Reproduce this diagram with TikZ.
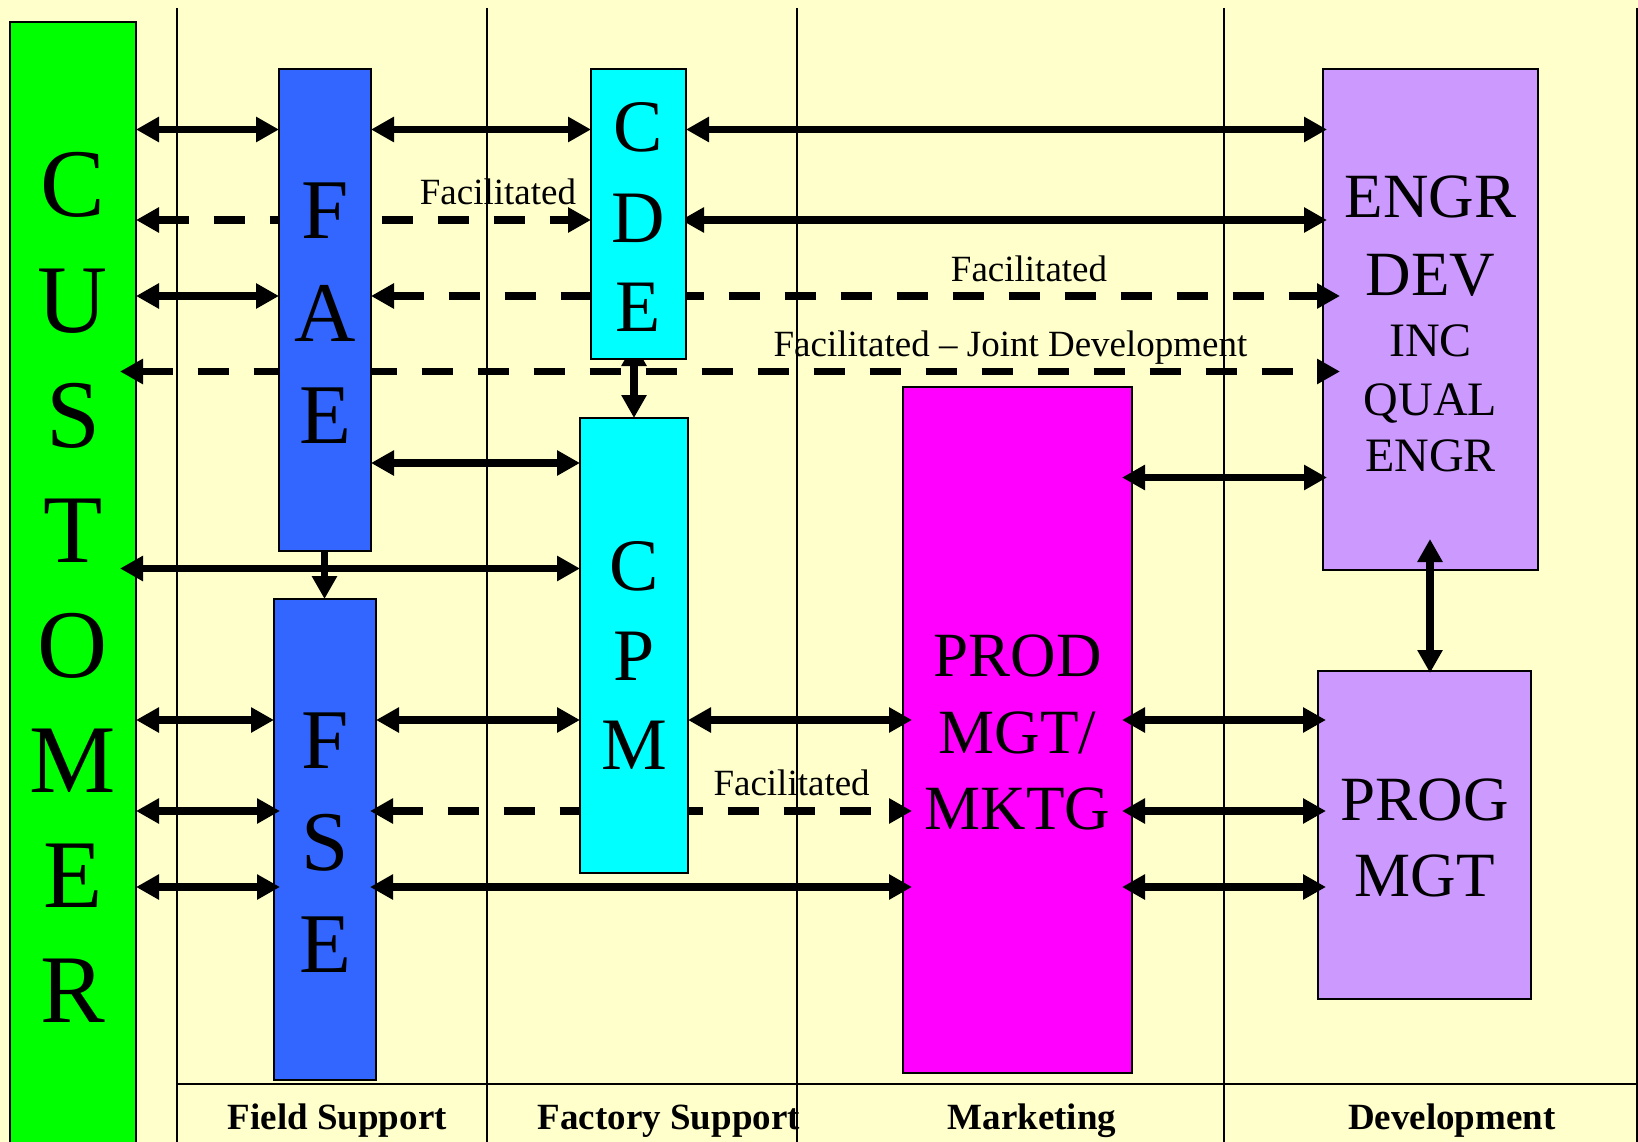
\documentclass[tikz,border=0pt]{standalone}
\usepackage{fontspec}
\setmainfont{Liberation Serif}
\usetikzlibrary{arrows.meta}
\definecolor{bgy}{HTML}{FFFFCC}
\definecolor{custg}{HTML}{00FF00}
\definecolor{faeb}{HTML}{3366FF}
\definecolor{cdec}{HTML}{00FFFF}
\definecolor{prodm}{HTML}{FF00FF}
\definecolor{engrp}{HTML}{CC99FF}
\pgfdeclarelayer{lyback}
\pgfdeclarelayer{lyconn}
\pgfdeclarelayer{lymid}
\pgfdeclarelayer{lyfront}
\pgfsetlayers{lyback,lyconn,lymid,lyfront,main}
\begin{document}
\begin{tikzpicture}[x=1pt,y=-1pt,
  box/.style={draw=black,line width=1.6pt,inner sep=0pt,outer sep=0pt,anchor=north west},
  txt/.style={inner sep=0pt,outer sep=0pt,anchor=base},
  conn/.style={line width=7.5pt,{Triangle[length=23pt,width=24pt]}-{Triangle[length=23pt,width=24pt]}},
  connone/.style={line width=7.5pt,-{Triangle[length=23pt,width=24pt]}},
  dconn/.style={conn,dash pattern=on 31pt off 25pt},
  lane/.style={line width=1.2pt,draw=black},
  fcust/.style={txt,font=\fontsize{97}{97}\selectfont},
  fbig/.style={txt,font=\fontsize{85}{85}\selectfont},
  fmid/.style={txt,font=\fontsize{74}{74}\selectfont},
  fbox/.style={txt,font=\fontsize{63}{63}\selectfont},
  fsmall/.style={txt,font=\fontsize{48}{48}\selectfont},
  flabel/.style={txt,font=\fontsize{37}{37}\selectfont},
  flane/.style={txt,font=\fontsize{37}{37}\selectfont\bfseries}]
\useasboundingbox (0,0) rectangle (1638,1142);

% ---------- background layer: lanes and under-boxes ----------
\begin{pgfonlayer}{lyback}
\fill[bgy] (0,0) rectangle (1638,1142);
\foreach \lx in {177,487,797,1224} \draw[lane] (\lx,8) -- (\lx,1142);
\draw[line width=2pt] (1637,8) -- (1637,1142);
\draw[line width=2pt] (177,1084) -- (1637,1084);

\node[box,fill=custg,minimum width=126pt,minimum height=1130pt] (cust) at (10,22) {};
\foreach \ch [count=\i] in {C,U,S,T,O,M,E,R}
  \node[fcust] (cu\i) at (73,{217+115*(\i-1)}) {\ch};

\node[box,fill=engrp,minimum width=215pt,minimum height=501pt] (engr) at (1323,69) {};
\node[fbox] (en1) at (1430.5,218) {ENGR};
\node[fbox] (en2) at (1430.5,295) {DEV};
\node[fsmall] (en3) at (1430.5,356) {INC};
\node[fsmall] (en4) at (1430.5,415) {QUAL};
\node[fsmall] (en5) at (1430.5,471.5) {ENGR};

\node[box,fill=prodm,minimum width=229pt,minimum height=686pt] (prod) at (903,387) {};
\node[fbox] (pd1) at (1017.5,676.5) {PROD};
\node[fbox] (pd2) at (1017.5,753) {MGT/};
\node[fbox] (pd3) at (1017.5,829.5) {MKTG};

\node[box,fill=engrp,minimum width=213pt,minimum height=328pt] (prog) at (1318,671) {};
\node[fbox] (pg1) at (1424.5,820) {PROG};
\node[fbox] (pg2) at (1424.5,896.5) {MGT};
\end{pgfonlayer}

% ---------- middle layer: boxes drawn over connectors ----------
\begin{pgfonlayer}{lymid}
\node[box,fill=faeb,minimum width=92pt,minimum height=482pt] (fae) at (279,69) {};
\node[fbig] (fa1) at (325,239) {F};
\node[fbig] (fa2) at (325,341) {A};
\node[fbig] (fa3) at (325,443) {E};

\node[box,fill=faeb,minimum width=102pt,minimum height=481pt] (fse) at (274,599) {};
\node[fbig] (fs1) at (325,768) {F};
\node[fbig] (fs2) at (325,870) {S};
\node[fbig] (fs3) at (325,972) {E};

\node[box,fill=cdec,minimum width=95pt,minimum height=290pt] (cde) at (591,69) {};
\node[fmid] (cd1) at (638.5,152) {C};
\node[fmid] (cd2) at (638.5,242) {D};
\node[fmid] (cd3) at (638.5,331) {E};
\end{pgfonlayer}

% CPM on top of everything
\node[box,fill=cdec,minimum width=108pt,minimum height=455pt] (cpm) at (580,418) {};
\node[fmid] (cp1) at (634,590) {C};
\node[fmid] (cp2) at (634,680) {P};
\node[fmid] (cp3) at (634,769) {M};

% ---------- row coordinates ----------
\coordinate (r1) at (0,129.5);
\coordinate (r2) at (0,220);
\coordinate (r3) at (0,296);
\coordinate (r4) at (0,371.5);
\coordinate (r6) at (0,463);
\coordinate (r6b) at (0,477.5);
\coordinate (r7) at (0,568.5);
\coordinate (r8) at (0,720);
\coordinate (r9) at (0,811);
\coordinate (r10) at (0,887);
\coordinate (vx1) at (634,0);
\coordinate (vx2) at (324.5,0);
\coordinate (vx3) at (1430,0);

% ---------- connectors ----------
\begin{pgfonlayer}{lyconn}
\draw[conn] (cust.east |- r1) -- (fae.west |- r1);
\draw[conn] (fae.east |- r1) -- (cde.west |- r1);
\draw[conn,shorten >=-4pt] (cde.east |- r1) -- (engr.west |- r1);

\draw[dconn] (cust.east |- r2) -- (cde.west |- r2);
\draw[conn,shorten <=-5pt,shorten >=-4pt] (cde.east |- r2) -- (engr.west |- r2);

\draw[conn] (cust.east |- r3) -- (fae.west |- r3);
\draw[dconn,shorten >=-17pt] (fae.east |- r3) -- (engr.west |- r3);

\draw[dconn,shorten <=-16pt,shorten >=-17pt] (cust.east |- r4) -- (engr.west |- r4);

\draw[conn,shorten <=-16pt] (cde.south -| vx1) -- (cpm.north -| vx1);

\draw[conn] (fae.east |- r6) -- (cpm.west |- r6);
\draw[conn,shorten <=-10pt,shorten >=-4pt] (prod.east |- r6b) -- (engr.west |- r6b);

\draw[conn,shorten <=-16pt] (cust.east |- r7) -- (cpm.west |- r7);
\draw[connone] (fae.south -| vx2) -- (fse.north -| vx2);

\draw[conn] (cust.east |- r8) -- (fse.west |- r8);
\draw[conn] (fse.east |- r8) -- (cpm.west |- r8);
\draw[conn,shorten >=-9pt] (cpm.east |- r8) -- (prod.west |- r8);
\draw[conn,shorten <=-10pt,shorten >=-8pt] (prod.east |- r8) -- (prog.west |- r8);

\draw[conn,shorten <=-10pt,shorten >=-8pt] (prod.east |- r9) -- (prog.west |- r9);
\draw[conn,shorten <=-10pt,shorten >=-8pt] (prod.east |- r10) -- (prog.west |- r10);

\draw[conn,shorten <=-31pt,shorten >=-2pt] (engr.south -| vx3) -- (prog.north -| vx3);
\end{pgfonlayer}

\begin{pgfonlayer}{lyfront}
\draw[conn,shorten >=-6pt] (cust.east |- r9) -- (fse.west |- r9);
\draw[dconn,shorten <=-6pt,shorten >=-9pt] (fse.east |- r9) -- (prod.west |- r9);
\draw[conn,shorten >=-6pt] (cust.east |- r10) -- (fse.west |- r10);
\draw[conn,shorten <=-6pt,shorten >=-9pt] (fse.east |- r10) -- (prod.west |- r10);
\end{pgfonlayer}

% ---------- labels ----------
\node[flabel] (lb1) at (498,204.7) {Facilitated};
\node[flabel] (lb2) at (1029,281.3) {Facilitated};
\node[flabel] (lb3) at (1010.5,356) {Facilitated – Joint Development};
\node[flabel] (lb4) at (791.6,795.4) {Facilitated};

\node[flane] (ln1) at (337.3,1129.5) {Field Support};
\node[flane] (ln2) at (668.8,1129.5) {Factory Support};
\node[flane] (ln3) at (1032,1129.5) {Marketing};
\node[flane] (ln4) at (1451.8,1129.5) {Development};
\end{tikzpicture}
\end{document}
